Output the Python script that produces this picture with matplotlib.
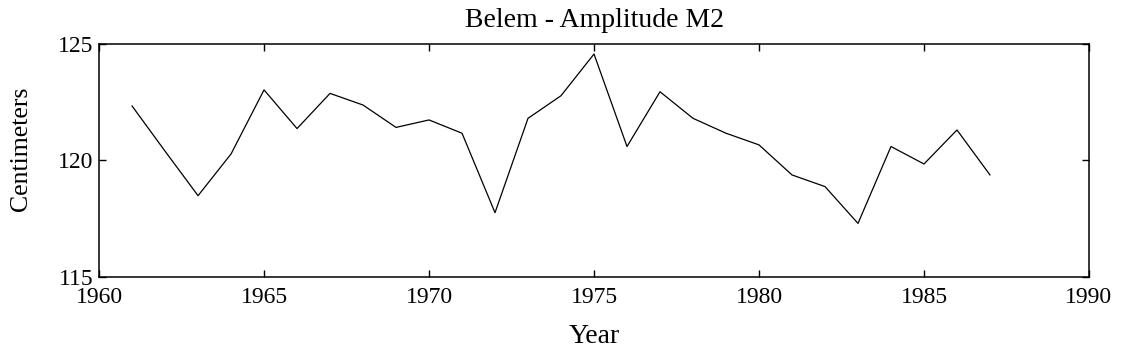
import matplotlib
matplotlib.use("Agg")
import matplotlib.pyplot as plt

# Belem M2 amplitude
years = [1961, 1962, 1963, 1964, 1965, 1966, 1967, 1968, 1969, 1970,
         1971, 1972, 1973, 1974, 1975, 1976, 1977, 1978, 1979, 1980,
         1981, 1982, 1983, 1984, 1985, 1986, 1987]
amplitude = [122.34, 120.4, 118.49, 120.28, 123.03, 121.37, 122.88, 122.38, 121.42, 121.74,
             121.17, 117.76, 121.81, 122.78, 124.57, 120.60, 122.95, 121.81, 121.17, 120.67,
             119.38, 118.88, 117.30, 120.60, 119.85, 121.31, 119.38]
xticks = [1960, 1965, 1970, 1975, 1980, 1985, 1990]
yticks = [115, 120, 125]

plt.rcParams["font.family"] = ["Liberation Serif", "DejaVu Serif"]

fig = plt.figure(figsize=(11.23, 3.6), dpi=100)
ax = fig.add_axes([0.0882, 0.2306, 0.8815, 0.6472])

ax.plot(years, amplitude, color="black", linewidth=0.9)

ax.set_xlim(1960, 1990)
ax.set_ylim(115, 125)
ax.set_xticks(xticks)
ax.set_yticks(yticks)
ax.tick_params(direction="in", top=True, right=True, length=5, width=1,
               labelsize=17)
ax.tick_params(axis="x", pad=7)
ax.tick_params(axis="y", pad=4)
for s in ax.spines.values():
    s.set_linewidth(1.1)

ax.set_title("Belem - Amplitude M2", fontsize=20, pad=12)
ax.set_xlabel("Year", fontsize=20, labelpad=12)
ax.set_ylabel("Centimeters", fontsize=18.5)
ax.yaxis.set_label_coords(-0.068, 0.55)

fig.savefig("out.png", dpi=100)
